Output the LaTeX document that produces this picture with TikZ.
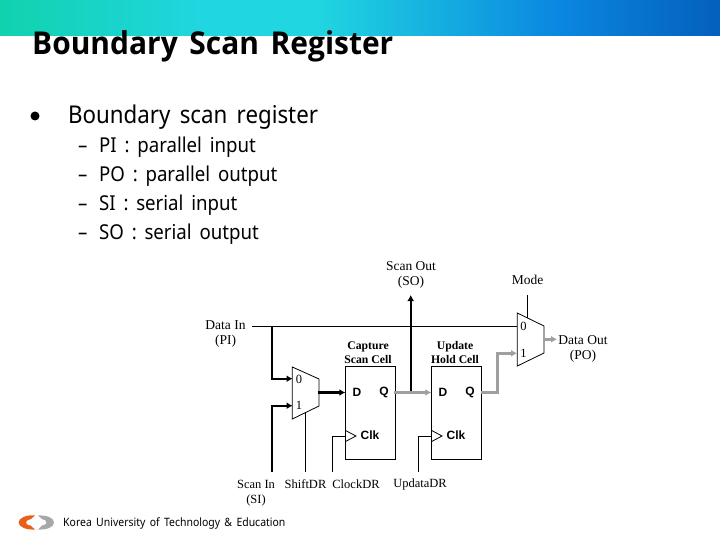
\documentclass[tikz,border=0pt]{standalone}
\usepackage{xcolor}
\usepackage{fontspec}
\setmainfont[WordSpace=1.6,FakeStretch=0.91]{Noto Sans}
\newfontfamily\titlefont[WordSpace=1.5,FakeStretch=0.95]{Open Sans}
\newfontfamily\labelfont{Liberation Serif}
\newfontfamily\boldfont{Liberation Sans}
\usepackage{tikz}
\usetikzlibrary{positioning,arrows.meta,shapes,shapes.geometric,calc}
\definecolor{barA}{HTML}{10D2AE}
\definecolor{barB}{HTML}{20D6E0}
\definecolor{barC}{HTML}{0A86E0}
\definecolor{barD}{HTML}{0460BC}
\definecolor{logoorange}{HTML}{E8601C}
\definecolor{logogray}{HTML}{A8A8A8}
\pgfdeclarehorizontalshading{topbar}{100bp}{color(0bp)=(barA); color(25bp)=(barA); color(39bp)=(barB); color(47bp)=(barB); color(64bp)=(barC); color(75bp)=(barD); color(100bp)=(barD)}
\tikzset{
  headline/.style={anchor=base west,inner sep=0pt,font=\titlefont\bfseries\fontsize{31.5}{30}\selectfont},
  bulletline/.style={anchor=base west,inner sep=0pt,font=\fontsize{24.5}{24}\selectfont},
  subline/.style={anchor=base west,inner sep=0pt,font=\fontsize{20.5}{20}\selectfont},
  sig/.style={align=center,inner sep=0pt,font=\labelfont\fontsize{12.5}{15}\selectfont},
  sigbig/.style={align=center,inner sep=0pt,font=\labelfont\fontsize{13.5}{15.5}\selectfont},
  sigbold/.style={sig,font=\labelfont\bfseries\fontsize{11.7}{14.5}\selectfont},
  pin/.style={inner sep=0pt,font=\boldfont\bfseries\fontsize{12}{12}\selectfont},
  cell/.style={draw,line width=0.8pt,minimum width=50.4pt,minimum height=92.6pt,inner sep=0pt},
  thin line/.style={line width=0.8pt},
  black wire/.style={line width=2pt},
  gray wire/.style={line width=2.4pt,color=gray!75},
  blacktip/.style={-{Latex[length=6pt,width=7pt]}},
  graytip/.style={-{Latex[length=6pt,width=7pt]}}
}
\begin{document}
\begin{tikzpicture}[x=1pt,y=-1pt]
\useasboundingbox (0,0) rectangle (720,540);
% top of the slide
\shade[shading=topbar] (0,0) rectangle (720,36);
\node[headline] (title) at (32,55) {Boundary Scan Register};
\node[circle,fill,inner sep=0pt,minimum size=9pt] (dot) at (35,116) {};
\node[bulletline] (head) at (68,124) {Boundary scan register};
\node[subline] (d1) at (78,153) {–};
\node[subline] (t1) at (99,153) {PI : parallel input};
\node[subline] (d2) at (78,182) {–};
\node[subline] (t2) at (99,182) {PO : parallel output};
\node[subline] (d3) at (78,211) {–};
\node[subline] (t3) at (99,211) {SI : serial input};
\node[subline] (d4) at (78,240) {–};
\node[subline] (t4) at (99,240) {SO : serial output};
% blocks
\draw[thin line] (292.3,367) -- (319,379) -- (319,406) -- (292.3,419) -- cycle;
\draw[thin line] (517.3,313) -- (544,326) -- (544,353) -- (517.3,366) -- cycle;
\node[cell] (cap) at (370.3,413) {};
\node[cell] (upd) at (456.5,413) {};
\draw[thin line] (345.5,430.5) -- (356,436) -- (345.5,441.5);
\draw[thin line] (431.7,430.5) -- (442,436) -- (431.7,441.5);
% labels
\node[sigbig] (so) at (411,275) {Scan Out\\(SO)};
\node[sigbig] (mode) at (527.5,279.5) {Mode};
\node[sigbig] (pi) at (225.5,334) {Data In\\(PI)};
\node[sigbig] (po) at (583,349) {Data Out\\(PO)};
\node[sigbold] (capl) at (368,352.5) {Capture\\Scan Cell};
\node[sigbold] (updl) at (455,352.5) {Update\\Hold Cell};
\node[sig] (si) at (256,493) {Scan In\\(SI)};
\node[sig] (shift) at (305.5,484) {ShiftDR};
\node[sig] (clock) at (356,484) {ClockDR};
\node[sig] (updata) at (420,484) {UpdataDR};
\node[sig] (m0) at (299,379) {0};
\node[sig] (m1) at (299,405.5) {1};
\node[sig] (n0) at (523.5,326) {0};
\node[sig] (n1) at (523.5,353) {1};
\node[pin] (cd) at (357,392.5) {D};
\node[pin] (cq) at (384,392.5) {Q};
\node[pin] (ud) at (443,392.5) {D};
\node[pin] (uq) at (470,392.5) {Q};
\node[pin] (cc) at (370,435.5) {Clk};
\node[pin] (uc) at (456,435.5) {Clk};
% wire points
\coordinate (piend) at (252,326.3);
\coordinate (pibranch) at (272,326.3);
\coordinate (muxain0) at (292.5,378.7);
\coordinate (muxain1) at (292.5,405.7);
\coordinate (muxbin0) at (517,326.3);
\coordinate (muxbin1) at (517,353.3);
\coordinate (siend) at (272,471.7);
\coordinate (shiftend) at (305,471.7);
\coordinate (shifttop) at (305,412);
\coordinate (clockend) at (332.3,471.7);
\coordinate (updend) at (418.3,471.7);
\coordinate (clktip) at (345.5,436);
\coordinate (updtip) at (431.7,436);
\coordinate (modetop) at (527.3,295);
\coordinate (modebot) at (527.3,318);
\coordinate (capout) at (394,392.5);
\coordinate (capin) at (345.3,392.5);
\coordinate (updin) at (431.3,392.5);
\coordinate (updout) at (481,392.5);
\coordinate (sotap) at (410.7,392.5);
\coordinate (sotip) at (410.7,295);
\coordinate (muxaout) at (317.5,392.5);
\coordinate (muxbout) at (543,339.3);
\coordinate (pohead) at (557,339.3);
% wires
\draw[thin line] (piend) -- (muxbin0);
\draw[thin line] (modetop) -- (modebot);
\draw[thin line] (shifttop) -- (shiftend);
\draw[thin line] (clockend) |- (clktip);
\draw[thin line] (updend) |- (updtip);
\draw[black wire,blacktip] (pibranch) |- (muxain0);
\draw[black wire,blacktip] (siend) |- (muxain1);
\draw[black wire,blacktip,line width=2.8pt] (muxaout) -- (capin);
\draw[black wire,blacktip] (sotap) -- (sotip);
\draw[gray wire,graytip] (capout) -- (updin);
\draw[gray wire,graytip] (updout) -- ++(16.5,0) |- (muxbin1);
\draw[gray wire,graytip] (muxbout) -- (pohead);
% footer
\fill[logoorange] (35,515.5) .. controls (26,514.5) and (19,518) .. (18.5,522.5) .. controls (19,527) and (26,530) .. (35,529.5) -- (30.5,525.5) .. controls (27,525) and (26,523.5) .. (26,522.5) .. controls (26,521) and (28,519.5) .. (31,519) -- cycle;
\fill[logogray] (38,515.5) .. controls (47,515) and (54,518) .. (54,522.5) .. controls (54,527) and (47,530) .. (38,529.5) -- (42,525.5) .. controls (45,525) and (46.5,524) .. (46.5,522.5) .. controls (46.5,521) and (45,519.5) .. (42,519) -- cycle;
\node[anchor=base west,inner sep=0pt,font=\fontsize{11.5}{11}\selectfont] (foot) at (63,526) {Korea University of Technology \& Education};
\end{tikzpicture}
\end{document}
